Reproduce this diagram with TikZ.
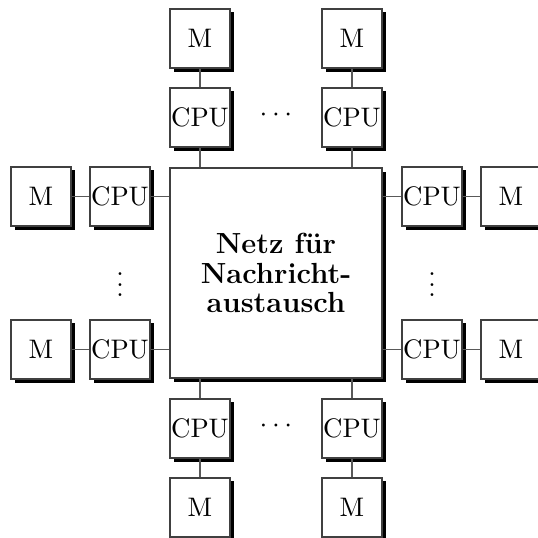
\documentclass[tikz,border=0pt]{standalone}
\usetikzlibrary{shadows}
\begin{document}
\begin{tikzpicture}[x=0.392pt,y=-0.392pt,
  every node/.style={font=\fontsize{10.5}{12.6}\selectfont},
  box/.style={draw=black!75,fill=white,line width=0.5pt,minimum width=23.5pt,minimum height=23.2pt,inner sep=0pt,
    drop shadow={shadow xshift=1.4pt,shadow yshift=-1.4pt,fill=black,opacity=1}},
  bigbox/.style={box,minimum width=83.1pt,minimum height=82.3pt,align=center,font=\fontsize{11.4}{11.6}\selectfont\bfseries},
  conn/.style={draw=black!65,line width=0.5pt}]
\useasboundingbox (0,0) rectangle (538,538);
\node[bigbox] (net) at (276,273) {Netz f\"ur\\Nachricht-\\austausch};
% top
\node[box] (tc1) at (200,117.5) {CPU};
\node[box] (tm1) at (200,38.5) {M};
\node[box] (tc2) at (352,117.5) {CPU};
\node[box] (tm2) at (352,38.5) {M};
% bottom
\node[box] (bc1) at (200,428.5) {CPU};
\node[box] (bm1) at (200,507.5) {M};
\node[box] (bc2) at (352,428.5) {CPU};
\node[box] (bm2) at (352,507.5) {M};
% left
\node[box] (lc1) at (120,196.5) {CPU};
\node[box] (lm1) at (41,196.5) {M};
\node[box] (lc2) at (120,349.5) {CPU};
\node[box] (lm2) at (41,349.5) {M};
% right
\node[box] (rc1) at (432,196.5) {CPU};
\node[box] (rm1) at (511,196.5) {M};
\node[box] (rc2) at (432,349.5) {CPU};
\node[box] (rm2) at (511,349.5) {M};
% dots
\node[inner sep=0pt] (dt) at (276,115) {$\cdots$};
\node[inner sep=0pt] (db) at (276,426) {$\cdots$};
\node[inner sep=0pt] (dl) at (120,277) {$\vdots$};
\node[inner sep=0pt] (dr) at (432,277) {$\vdots$};
% connectors
\draw[conn] (tm1) -- (tc1);
\draw[conn] (tm2) -- (tc2);
\draw[conn] (tc1.south) -- (tc1.south |- net.north);
\draw[conn] (tc2.south) -- (tc2.south |- net.north);
\draw[conn] (bm1) -- (bc1);
\draw[conn] (bm2) -- (bc2);
\draw[conn] (bc1.north) -- (bc1.north |- net.south);
\draw[conn] (bc2.north) -- (bc2.north |- net.south);
\draw[conn] (lm1) -- (lc1);
\draw[conn] (lm2) -- (lc2);
\draw[conn] (lc1.east) -- (lc1.east -| net.west);
\draw[conn] (lc2.east) -- (lc2.east -| net.west);
\draw[conn] (rm1) -- (rc1);
\draw[conn] (rm2) -- (rc2);
\draw[conn] (rc1.west) -- (rc1.west -| net.east);
\draw[conn] (rc2.west) -- (rc2.west -| net.east);
\end{tikzpicture}
\end{document}
